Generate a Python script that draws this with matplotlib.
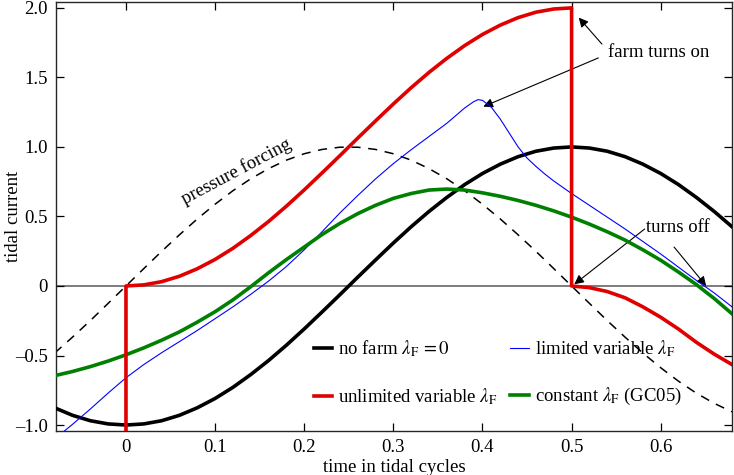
# Tidal current through a tidal cycle with and without a farm
import numpy as np
import matplotlib
matplotlib.use('Agg')
import matplotlib.pyplot as plt

# Fonts ---------------------------------------------------------
plt.rcParams['font.family'] = ['Liberation Serif', 'DejaVu Serif']
plt.rcParams['mathtext.fontset'] = 'stix'

FS = 13.5

# Data ----------------------------------------------------------
t = [-0.08, -0.06, -0.04, -0.02, 0.0, 0.02, 0.04, 0.06, 0.08, 0.10,
     0.12, 0.14, 0.16, 0.18, 0.20, 0.22, 0.24, 0.26, 0.28, 0.30,
     0.32, 0.34, 0.36, 0.38, 0.40, 0.42, 0.44, 0.46, 0.48, 0.50,
     0.52, 0.54, 0.56, 0.58, 0.60, 0.62, 0.64, 0.66, 0.68]

no_farm = [-0.876, -0.930, -0.969, -0.992, -1.0, -0.992, -0.969, -0.930, -0.876, -0.809,
           -0.729, -0.637, -0.536, -0.426, -0.309, -0.187, -0.063, 0.063, 0.187, 0.309,
           0.426, 0.536, 0.637, 0.729, 0.809, 0.876, 0.930, 0.969, 0.992, 1.0,
           0.992, 0.969, 0.930, 0.876, 0.809, 0.729, 0.637, 0.536, 0.426]

forcing = [-0.482, -0.368, -0.249, -0.125, 0.0, 0.125, 0.249, 0.368, 0.482, 0.588,
           0.685, 0.771, 0.844, 0.905, 0.951, 0.982, 0.998, 0.998, 0.982, 0.951,
           0.905, 0.844, 0.771, 0.685, 0.588, 0.482, 0.368, 0.249, 0.125, 0.0,
           -0.125, -0.249, -0.368, -0.482, -0.588, -0.685, -0.771, -0.844, -0.905]

constant = [-0.645, -0.615, -0.58, -0.54, -0.495, -0.445, -0.39, -0.33, -0.26, -0.185,
            -0.10, -0.005, 0.095, 0.19, 0.28, 0.37, 0.45, 0.52, 0.58, 0.63,
            0.665, 0.69, 0.697, 0.69, 0.67, 0.645, 0.615, 0.58, 0.54, 0.495,
            0.445, 0.39, 0.33, 0.26, 0.185, 0.10, 0.01, -0.09, -0.20]

limited_t = [-0.08, -0.06, -0.04, -0.02, 0.0, 0.02, 0.04, 0.06, 0.08, 0.10,
             0.12, 0.14, 0.16, 0.18, 0.20, 0.22, 0.24, 0.26, 0.28, 0.30,
             0.32, 0.34, 0.36, 0.37, 0.38, 0.39, 0.395, 0.40, 0.41, 0.42,
             0.43, 0.44, 0.45, 0.46, 0.47, 0.48, 0.49, 0.50, 0.52, 0.54,
             0.56, 0.58, 0.60, 0.62, 0.64, 0.66, 0.68]
limited = [-1.10, -0.995, -0.885, -0.77, -0.66, -0.565, -0.48, -0.40, -0.32, -0.235,
           -0.15, -0.06, 0.035, 0.14, 0.26, 0.39, 0.525, 0.65, 0.77, 0.88,
           0.98, 1.075, 1.17, 1.225, 1.28, 1.325, 1.34, 1.335, 1.285, 1.20,
           1.10, 1.0, 0.92, 0.86, 0.805, 0.755, 0.71, 0.665, 0.58, 0.495,
           0.41, 0.32, 0.23, 0.135, 0.04, -0.05, -0.15]

# farm switches on at 0 and 0.5 -> jumps in the unlimited curve
unlimited_t = [-0.08, -0.06, -0.04, -0.02, 0.0, 0.0, 0.02, 0.04, 0.06, 0.08,
               0.10, 0.12, 0.14, 0.16, 0.18, 0.20, 0.22, 0.24, 0.26, 0.28,
               0.30, 0.32, 0.34, 0.36, 0.38, 0.40, 0.42, 0.44, 0.46, 0.48,
               0.50, 0.50, 0.52, 0.54, 0.56, 0.58, 0.60, 0.62, 0.64, 0.66,
               0.68]
unlimited = [-1.876, -1.930, -1.969, -1.992, -2.0, 0.0, 0.008, 0.031, 0.070, 0.124,
             0.191, 0.271, 0.363, 0.464, 0.574, 0.691, 0.813, 0.937, 1.063, 1.187,
             1.309, 1.426, 1.536, 1.637, 1.729, 1.809, 1.876, 1.930, 1.969, 1.992,
             2.0, 0.0, -0.012, -0.04, -0.085, -0.15, -0.225, -0.31, -0.405, -0.49,
             -0.565]

xticks = [0, 0.1, 0.2, 0.3, 0.4, 0.5, 0.6]
xticklabels = ['0', '0.1', '0.2', '0.3', '0.4', '0.5', '0.6']
yticks = [-1.0, -0.5, 0, 0.5, 1.0, 1.5, 2.0]
yticklabels = ['\u20131.0', '\u20130.5', '0', '0.5', '1.0', '1.5', '2.0']

lam = r'$\lambda_{\mathrm{F}}$'

# Figure --------------------------------------------------------
fig = plt.figure(figsize=(7.34, 4.75), dpi=100)
ax = fig.add_axes([0.0763, 0.0926, 0.921, 0.9034])

ax.axhline(0, color='0.35', lw=1.1, zorder=1)
ax.plot(t, forcing, color='k', lw=1.1, dashes=(6, 5), zorder=2)
l_black, = ax.plot(t, no_farm, color='k', lw=2.6, zorder=3)
l_blue, = ax.plot(limited_t, limited, color='#0000ff', lw=0.8, zorder=4)
l_green, = ax.plot(t, constant, color='#008000', lw=2.6, zorder=5)
l_red, = ax.plot(unlimited_t, unlimited, color='#e00000', lw=2.6, zorder=6)

ax.set_xlim(-0.0785, 0.68)
ax.set_ylim(-1.043, 2.043)
ax.set_xticks(xticks)
ax.set_xticklabels(xticklabels)
ax.set_yticks(yticks)
ax.set_yticklabels(yticklabels)
ax.tick_params(direction='in', length=6, width=0.9, top=True, right=True,
               labelsize=FS, pad=6)
for s in ax.spines.values():
    s.set_linewidth(1.0)
    s.set_color('0.15')

ax.set_xlabel('time in tidal cycles', fontsize=FS, labelpad=2)
ax.set_ylabel('tidal current', fontsize=FS)
ax.yaxis.set_label_coords(-0.05, 0.5)

# Legend --------------------------------------------------------
ax.legend([l_black, l_red, l_blue, l_green],
          ['no farm ' + lam + '$\\,=0$', 'unlimited variable ' + lam,
           'limited variable ' + lam, 'constant ' + lam + ' (GC05)'],
          ncol=2, frameon=False, fontsize=FS, loc='upper left',
          bbox_to_anchor=(0.381, 0.216), borderaxespad=0, borderpad=0,
          handlelength=1.0, handletextpad=0.3, columnspacing=0.7,
          labelspacing=1.45)

# Annotations ---------------------------------------------------
ax.text(0.124, 0.82, 'pressure forcing', fontsize=FS, rotation=28,
        ha='center', va='center')

arr = dict(arrowstyle='-|>', color='k', lw=0.8, mutation_scale=14,
           shrinkA=0, shrinkB=0)
ax.text(0.541, 1.68, 'farm turns on', fontsize=FS, ha='left', va='center')
ax.annotate('', xy=(0.508, 1.93), xytext=(0.534, 1.74), arrowprops=arr)
ax.annotate('', xy=(0.401, 1.29), xytext=(0.530, 1.64), arrowprops=arr)

ax.text(0.584, 0.42, 'turns off', fontsize=FS, ha='left', va='center')
ax.annotate('', xy=(0.503, 0.012), xytext=(0.582, 0.41), arrowprops=arr)
ax.annotate('', xy=(0.651, 0.0), xytext=(0.615, 0.28), arrowprops=arr)

fig.savefig('out.png', dpi=100)
